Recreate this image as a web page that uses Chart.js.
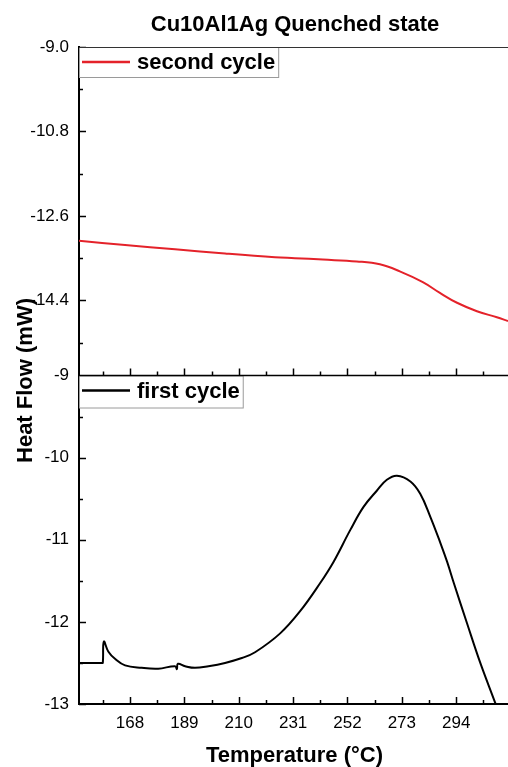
<!DOCTYPE html>
<html><head><meta charset="utf-8">
<script src="https://cdn.jsdelivr.net/npm/chart.js@4"></script>
<style>html,body{margin:0;padding:0;background:#fff;} canvas{display:block}</style>
</head><body>
<canvas id="c" width="508" height="767"></canvas>
<script>
const titleText = 'Cu10Al1Ag Quenched state';
const xTitle = 'Temperature (°C)';
const yTitle = 'Heat Flow (mW)';
const secondLabel = 'second cycle';
const firstLabel = 'first cycle';

// second cycle (top panel)
const secondTemp = [148.3, 166.1, 185.4, 204.7, 224.0, 231.7, 242.5, 255.6, 264.5, 272.2, 281.1, 287.7, 294.3, 302.0, 309.7, 314.0];
const secondFlow = [-13.13, -13.22, -13.31, -13.40, -13.48, -13.50, -13.53, -13.57, -13.63, -13.78, -14.01, -14.24, -14.45, -14.63, -14.76, -14.84];

// first cycle (bottom panel)
const firstTemp = [148.3, 157.1, 157.5, 157.9, 159.6, 162.2, 166.1, 172.5, 178.9, 185.4, 186.1, 186.5, 189.3, 193.1, 198.3, 204.7, 211.2, 216.3, 226.0, 233.7, 241.4, 246.6, 253.1, 258.2, 263.4, 267.2, 271.1, 276.3, 280.1, 284.0, 287.9, 290.5, 293.1, 298.2, 303.3, 309.1, 309.6];
const firstFlow = [-12.50, -12.50, -12.50, -12.24, -12.36, -12.45, -12.53, -12.56, -12.57, -12.54, -12.575, -12.51, -12.54, -12.56, -12.54, -12.50, -12.44, -12.37, -12.14, -11.87, -11.53, -11.27, -10.88, -10.60, -10.40, -10.27, -10.22, -10.29, -10.44, -10.72, -11.04, -11.27, -11.53, -12.02, -12.50, -12.99, -13.04];

// tick values
const xMajorTicks = [168, 189, 210, 231, 252, 273, 294];
const xMinorTicks = [157.5, 178.5, 199.5, 220.5, 241.5, 262.5, 283.5, 304.5];
const topMajorTicks = [-9.0, -10.8, -12.6, -14.4];
const topMinorTicks = [-9.9, -11.7, -13.5, -15.3];
const botMajorTicks = [-13, -12, -11, -10, -9];
const botMinorTicks = [-12.5, -11.5, -10.5, -9.5];

const FONT = '"Liberation Sans", Arial, sans-serif';
const RED = '#e4222a';

const decor = {
  id: 'decor',
  afterDraw(chart) {
    const ctx = chart.ctx, a = chart.chartArea;
    const x = chart.scales.x, yT = chart.scales.yTop, yB = chart.scales.yBot;
    ctx.save();
    ctx.strokeStyle = '#000';
    ctx.lineWidth = 1.5;
    const seg = (x1, y1, x2, y2) => { ctx.beginPath(); ctx.moveTo(x1, y1); ctx.lineTo(x2, y2); ctx.stroke(); };
    for (const base of [yB.bottom, yT.bottom]) {
      xMajorTicks.forEach(v => { const p = Math.round(x.getPixelForValue(v)) + 0.5; seg(p, base, p, base - 7); });
      xMinorTicks.forEach(v => { const p = Math.round(x.getPixelForValue(v)) + 0.5; seg(p, base, p, base - 4); });
    }
    topMajorTicks.forEach(v => { const p = Math.round(yT.getPixelForValue(v)) + 0.5; seg(a.left, p, a.left + 7, p); });
    topMinorTicks.forEach(v => { const p = Math.round(yT.getPixelForValue(v)) + 0.5; seg(a.left, p, a.left + 4, p); });
    botMajorTicks.forEach(v => { const p = Math.round(yB.getPixelForValue(v)) + 0.5; seg(a.left, p, a.left + 7, p); });
    botMinorTicks.forEach(v => { const p = Math.round(yB.getPixelForValue(v)) + 0.5; seg(a.left, p, a.left + 4, p); });

    ctx.font = 'bold 22px ' + FONT;
    const legend = (top, h, label, color) => {
      const tx = a.left + 58;
      const w = ctx.measureText(label).width;
      const right = tx + w + 3;
      ctx.fillStyle = '#fff';
      ctx.fillRect(a.left, top, right - a.left, h);
      ctx.strokeStyle = '#9a9a9a';
      ctx.lineWidth = 1;
      ctx.strokeRect(a.left + 0.5, top + 0.5, right - a.left, h);
      ctx.strokeStyle = color;
      ctx.lineWidth = 2.5;
      seg(a.left + 3, top + 15, a.left + 51, top + 15);
      ctx.fillStyle = '#000';
      ctx.textAlign = 'left';
      ctx.textBaseline = 'alphabetic';
      ctx.fillText(label, tx, top + 22);
    };
    legend(a.top, 30, secondLabel, RED);
    legend(yB.top, 32, firstLabel, '#000');

    ctx.strokeStyle = '#333';
    ctx.lineWidth = 1;
    seg(a.left, Math.round(a.top) + 0.5, a.right, Math.round(a.top) + 0.5);
    ctx.strokeStyle = '#000';
    ctx.lineWidth = 1.5;
    seg(a.left, yB.top, a.right, yB.top);

    ctx.fillStyle = '#000';
    ctx.font = 'bold 22px ' + FONT;
    ctx.textAlign = 'center';
    ctx.textBaseline = 'alphabetic';
    ctx.fillText(titleText, 295, 31);
    ctx.fillText(xTitle, 294.5, 762);
    ctx.save();
    ctx.translate(32, 380.5);
    ctx.rotate(-Math.PI / 2);
    ctx.fillText(yTitle, 0, 0);
    ctx.restore();
    ctx.restore();
  }
};

const tickFont = { family: FONT, size: 17 };

new Chart(document.getElementById('c'), {
  type: 'line',
  data: {
    datasets: [
      { label: secondLabel, data: secondTemp.map((t, i) => ({ x: t, y: secondFlow[i] })), yAxisID: 'yTop',
        borderColor: RED, borderWidth: 2, pointRadius: 0, tension: 0.4 },
      { label: firstLabel, data: firstTemp.map((t, i) => ({ x: t, y: firstFlow[i] })), yAxisID: 'yBot',
        borderColor: '#000', borderWidth: 2, pointRadius: 0, tension: 0.4 }
    ]
  },
  options: {
    responsive: false, animation: false, devicePixelRatio: 1,
    layout: { padding: { top: 47, right: 0, left: 0, bottom: 0 } },
    plugins: { legend: { display: false }, title: { display: false }, tooltip: { enabled: false } },
    scales: {
      x: {
        type: 'linear', min: 148.3, max: 314,
        afterFit(s) { s.height = 63; },
        afterBuildTicks(s) { s.ticks = xMajorTicks.map(v => ({ value: v })); },
        grid: { display: false, drawTicks: false },
        border: { display: true, color: '#000', width: 2 },
        ticks: { autoSkip: false, maxRotation: 0, padding: 9, color: '#000', font: tickFont, callback: v => String(v) }
      },
      yBot: {
        type: 'linear', position: 'left', stack: 'hf', stackWeight: 1, min: -13, max: -9,
        afterFit(s) { s.width = 79; },
        afterBuildTicks(s) { s.ticks = botMajorTicks.map(v => ({ value: v })); },
        grid: { display: false, drawTicks: false },
        border: { display: true, color: '#000', width: 2 },
        ticks: { padding: 10, color: '#000', font: tickFont, callback: v => String(v) }
      },
      yTop: {
        type: 'linear', position: 'left', stack: 'hf', stackWeight: 1, min: -16, max: -9,
        afterFit(s) { s.width = 79; },
        afterBuildTicks(s) { s.ticks = topMajorTicks.map(v => ({ value: v })); },
        grid: { display: false, drawTicks: false },
        border: { display: true, color: '#000', width: 2 },
        ticks: { padding: 10, color: '#000', font: tickFont, callback: v => Number(v).toFixed(1) }
      }
    }
  },
  plugins: [decor]
});
</script>
</body></html>
